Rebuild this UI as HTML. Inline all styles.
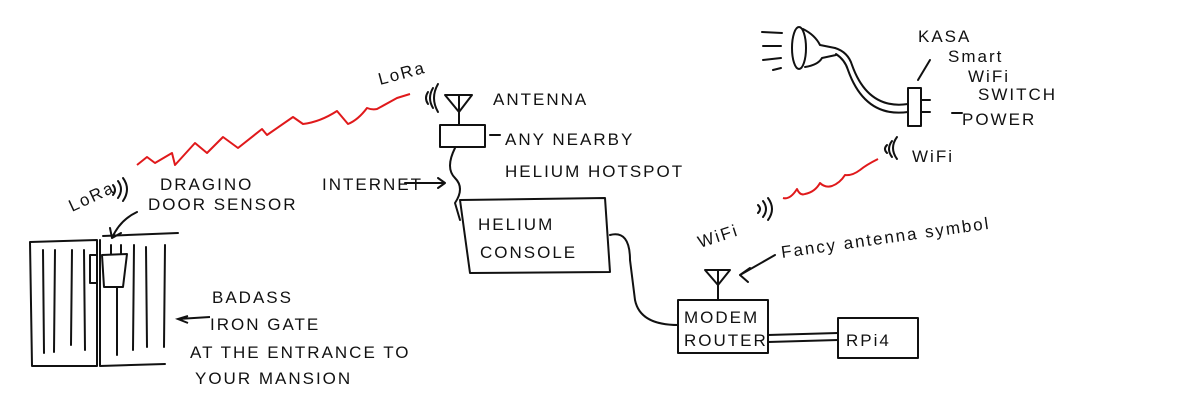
<!DOCTYPE html>
<html><head><meta charset="utf-8"><style>
html,body{margin:0;padding:0;background:#fff;}
svg{display:block}
text{font-family:"Liberation Sans",sans-serif;font-size:17px;fill:#111;letter-spacing:2px}
</style></head><body>
<svg width="1200" height="400" viewBox="0 0 1200 400" xmlns="http://www.w3.org/2000/svg">
<g fill="none" stroke="#111" stroke-width="2" stroke-linecap="round" stroke-linejoin="round">
<!-- gate left panel -->
<path d="M30 242 L97 240 L97 366 L32 366 Z"/>
<path d="M43 250 L44 353 M55 250 L54 352 M72 250 L71 345 M84 250 L85 350"/>
<path d="M90 255 L96 255 M90 255 L90 283 L96 283"/>
<!-- right panel -->
<path d="M100 240 L100 366 L165 364 M103 236 L178 233"/>
<path d="M117 288 L117 355 M134 245 L133 350 M146 247 L147 347 M165 245 L164 347"/>
<path d="M102 255 L127 254 L123 287 L104 287 Z"/>
<path d="M111 245 L111 254 M121 245 L121 254"/>
<path d="M137 212 Q120 220 112 238 M112 238 L110 228 M112 238 L121 233"/>
<!-- signal marks near sensor -->
<path d="M113 185 q4 5 0 10 M118 181 q6 8 0 17 M123 178 q8 11 0 23"/>
<!-- antenna -->
<path d="M445 95 L472 95 L459 112 Z M459 95 L459 125"/>
<path d="M428 92 q-4 6 0 12 M433 88 q-6 10 0 20 M438 84 q-8 14 0 28"/>
<rect x="440" y="125" width="45" height="22"/>
<path d="M490 135 L500 135"/>
<path d="M455 148 q-10 20 0 30 q10 10 0 25 L460 220"/>
<path d="M405 183 L445 183 M438 178 L445 183 L438 188"/>
<!-- helium console -->
<path d="M460 200 L605 198 L610 272 L470 273 Z"/>
<path d="M610 235 Q630 230 630 260 L635 300 Q640 325 678 325"/>
<!-- modem router -->
<rect x="678" y="300" width="90" height="53"/>
<path d="M705 270 L730 270 L718 285 Z M718 270 L718 300"/>
<path d="M740 275 L775 255 M740 275 L750 268 M740 275 L748 282"/>
<path d="M768 335 L838 333 M768 342 L838 340"/>
<rect x="838" y="318" width="80" height="40"/>
<!-- wifi signal near router -->
<path d="M758 205 q4 4 0 8 M763 201 q6 8 0 16 M768 198 q8 11 0 22"/>
<!-- wifi near switch -->
<path d="M887 145 q-4 4 0 8 M892 141 q-6 8 0 16 M897 137 q-8 11 0 22"/>
<!-- kasa switch -->
<rect x="908" y="88" width="13" height="38"/>
<path d="M921 100 L930 100 M921 112 L930 112 M952 113 L962 113"/>
<path d="M918 80 L930 60"/>
<!-- bulb -->
<ellipse cx="799" cy="48" rx="7" ry="21"/>
<path d="M803 29 Q815 35 820 45 L835 48 M805 67 Q818 65 822 58 L836 55"/>
<path d="M835 48 Q848 52 852 65 Q868 110 908 104"/>
<path d="M836 54 Q845 60 848 70 Q865 118 908 112"/>
<path d="M762 32 L782 33 M763 46 L781 46 M763 60 L781 58 M773 70 L781 68"/>
</g>
<g fill="none" stroke="#e0191b" stroke-width="2" stroke-linejoin="round">
<path d="M137 165 L147 157 L155 163 L172 153 L175 165 L195 143 L207 153 L223 137 L238 148 L262 129 L267 135 L293 117 L303 124 Q320 122 337 111 L348 124 Q358 120 367 108 Q372 110 377 109 L397 98 L410 94"/>
<path d="M783 198 Q790 200 797 189 Q800 196 805 194 Q815 192 820 183 Q825 188 832 186 Q840 183 845 175 Q852 176 860 170 Q866 165 878 159"/>
</g>
<text x="380" y="85" transform="rotate(-15 380 85)">LoRa</text>
<text x="493" y="105">ANTENNA</text>
<text x="505" y="145">ANY NEARBY</text>
<text x="505" y="177">HELIUM HOTSPOT</text>
<text x="322" y="190">INTERNET</text>
<text x="72" y="212" transform="rotate(-25 72 212)">LoRa</text>
<text x="160" y="190">DRAGINO</text>
<text x="148" y="210">DOOR SENSOR</text>
<path d="M188 316 L178 319 L188 323 M178 319 L210 317" fill="none" stroke="#111" stroke-width="2"/>
<text x="212" y="303">BADASS</text>
<text x="210" y="330">IRON GATE</text>
<text x="190" y="358">AT THE ENTRANCE TO</text>
<text x="195" y="384">YOUR MANSION</text>
<text x="478" y="230">HELIUM</text>
<text x="480" y="258">CONSOLE</text>
<text x="700" y="248" transform="rotate(-18 700 248)">WiFi</text>
<text x="782" y="258" transform="rotate(-8 782 258)">Fancy antenna symbol</text>
<text x="684" y="323">MODEM</text>
<text x="684" y="346">ROUTER</text>
<text x="846" y="346" font-size="20">RPi4</text>
<text x="918" y="42">KASA</text>
<text x="948" y="62">Smart</text>
<text x="968" y="82">WiFi</text>
<text x="978" y="100">SWITCH</text>
<text x="962" y="125">POWER</text>
<text x="912" y="162">WiFi</text>
</svg>
</body></html>
